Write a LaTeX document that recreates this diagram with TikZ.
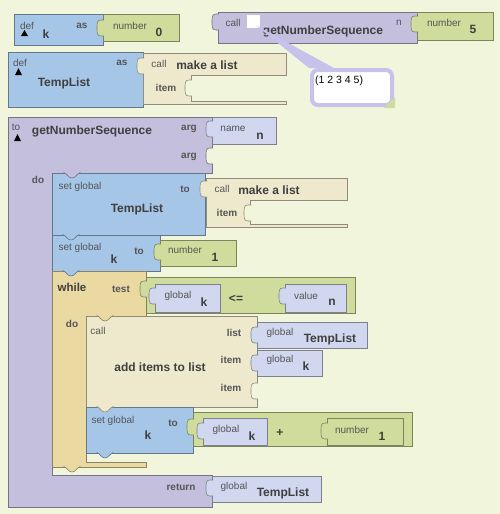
\documentclass[tikz,border=0pt]{standalone}
\usepackage{fontspec}
\setmainfont{Liberation Sans}
\definecolor{canvas}{HTML}{F0F5DC}
\definecolor{varblue}{HTML}{A6C6E8}
\definecolor{numgreen}{HTML}{CFDC9C}
\definecolor{procpurple}{HTML}{C3BFDD}
\definecolor{listcream}{HTML}{EEE9CD}
\definecolor{getblue}{HTML}{D0D7EE}
\definecolor{ctrltan}{HTML}{EBD9A2}
\definecolor{calloutpurple}{HTML}{C6C2EC}
\definecolor{labelgrey}{HTML}{555555}
\definecolor{namegrey}{HTML}{3F3F3F}
\tikzset{
  block/.style={fill=#1, draw=#1!60!black, line width=0.6pt},
  lbl/.style={font=\fontsize{10}{11}\selectfont, text=labelgrey, inner sep=0pt},
  kw/.style={font=\fontsize{10}{11}\selectfont\bfseries, text=labelgrey, inner sep=0pt},
  ident/.style={font=\fontsize{12}{13}\selectfont\bfseries, text=namegrey, inner sep=0pt},
}
% plug of a value block, sitting in the socket of its parent (colour, x, y)
\newcommand{\plugin}[3]{%
  \filldraw[fill=#1, draw=#1!60!black, line width=0.6pt]
    (#2+1,#3-8) -- (#2-2,#3-8) .. controls (#2-6,#3-8) and (#2-6,#3-5) .. (#2-6,#3)
    .. controls (#2-6,#3+5) and (#2-6,#3+8) .. (#2-2,#3+8) -- (#2+1,#3+8);}
% empty socket on the right edge of a block (parent colour, x, y)
\newcommand{\emptysock}[3]{%
  \filldraw[fill=canvas, draw=#1!60!black, line width=0.6pt]
    (#2+1,#3-8) -- (#2-2,#3-8) .. controls (#2-6,#3-8) and (#2-6,#3-5) .. (#2-6,#3)
    .. controls (#2-6,#3+5) and (#2-6,#3+8) .. (#2-2,#3+8) -- (#2+1,#3+8);}
% tab below a statement block (colour, x, y)
\newcommand{\notch}[3]{%
  \filldraw[fill=#1, draw=#1!60!black, line width=0.6pt]
    (#2,#3-1) -- (#2,#3) .. controls (#2+3,#3) and (#2+4,#3+5) .. (#2+8,#3+5)
    .. controls (#2+12,#3+5) and (#2+13,#3) .. (#2+16,#3) -- (#2+16,#3-1);}

\begin{document}
\begin{tikzpicture}[x=1pt, y=-1pt]
  \fill[canvas] (0,0) rectangle (500,514);
  \useasboundingbox (0,0) rectangle (500,514);

  % def k as number 0
  \draw[block=varblue] (14,14) rectangle (103,45);
  \draw[block=numgreen] (103,14) rectangle (179,41);
  \plugin{numgreen}{103}{28}
  \fill (21,36) -- (28,36) -- (24.5,30) -- cycle;

  % def TempList as make a list
  \draw[block=varblue] (8,52) rectangle (143,107);
  \draw[block=listcream] (143,53) -- (286,53) -- (286,75) -- (191,75) -- (191,101)
    -- (286,101) -- (286,104) -- (143,104) -- cycle;
  \plugin{listcream}{143}{66}
  \emptysock{listcream}{191}{88}
  \fill (15,75) -- (22,75) -- (18.5,68) -- cycle;

  % call getNumberSequence 5
  \draw[block=procpurple] (218,12) rectangle (417,43);
  \plugin{procpurple}{218}{22}
  \draw[block=numgreen] (417,12) rectangle (493,40);
  \plugin{numgreen}{417}{24}

  % procedure
  \draw[block=procpurple] (8,117) -- (212,117) -- (212,173) -- (52,173) -- (52,475)
    -- (212,475) -- (212,507) -- (8,507) -- cycle;
  \draw[block=getblue] (212,117) rectangle (276,144);
  \plugin{getblue}{212}{129}
  \emptysock{procpurple}{212}{156}
  \fill (14,141) -- (21,141) -- (17.5,134) -- cycle;

  % set global TempList to make a list
  \draw[block=varblue] (52,173) rectangle (205,235);
  \notch{procpurple}{64}{173}
  \draw[block=listcream] (206,178) -- (347,178) -- (347,200) -- (250,200) -- (250,224)
    -- (347,224) -- (347,227) -- (206,227) -- cycle;
  \plugin{listcream}{206}{189}
  \emptysock{listcream}{250}{213}

  % set global k to 1
  \draw[block=varblue] (52,235) rectangle (160,271);
  \notch{varblue}{63}{235}
  \draw[block=numgreen] (160,240) rectangle (236,266);
  \plugin{numgreen}{160}{252}

  % while test
  \draw[block=ctrltan] (52,271) -- (146,271) -- (146,316) -- (86,316) -- (86,462)
    -- (146,462) -- (146,467) -- (52,467) -- cycle;
  \notch{varblue}{63}{271}
  \draw[block=numgreen] (146,277) rectangle (355,313);
  \plugin{numgreen}{146}{289}
  \draw[block=getblue] (155,284) rectangle (220,312);
  \plugin{getblue}{155}{296}
  \draw[block=getblue] (285,284) rectangle (346,312);
  \plugin{getblue}{285}{296}

  % call add items to list
  \draw[block=listcream] (86,316) rectangle (257,407);
  \notch{ctrltan}{97}{316}
  \draw[block=getblue] (257,322) rectangle (367,348);
  \plugin{getblue}{257}{335}
  \draw[block=getblue] (257,350) rectangle (322,376);
  \plugin{getblue}{257}{363}
  \emptysock{listcream}{257}{391}

  % set global k to k + 1
  \draw[block=varblue] (86,407) rectangle (193,453);
  \notch{listcream}{97}{407}
  \draw[block=numgreen] (193,412) rectangle (412,446);
  \plugin{numgreen}{193}{427}
  \draw[block=getblue] (203,418) rectangle (267,445);
  \plugin{getblue}{203}{431}
  \draw[block=numgreen] (327,418) rectangle (403,445);
  \plugin{numgreen}{327}{431}
  \notch{varblue}{97}{453}
  \notch{ctrltan}{64}{467}

  % return global TempList
  \draw[block=getblue] (212,476) rectangle (321,502);
  \plugin{getblue}{212}{488}

  % texts
  \node[lbl] (defk-def) at (27,26) {def};
  \node[ident] (defk-name) at (46,34) {k};
  \node[kw] (defk-as) at (82,26) {as};
  \node[lbl] (num0-lbl) at (130,26) {number};
  \node[ident] (num0-val) at (159,32) {0};

  \node[lbl] (deflist-def) at (20,63) {def};
  \node[ident] (deflist-name) at (64,83) {TempList};
  \node[kw] (deflist-as) at (122,63) {as};
  \node[lbl] (mk1-call) at (159,64) {call};
  \node[ident] (mk1-name) at (207,65) {make a list};
  \node[kw] (mk1-item) at (166,88) {item};

  \node[lbl] (call-lbl) at (233,23) {call};
  \node[fill=white, minimum size=13pt, inner sep=0pt] (resultbtn) at (253,21.5) {};
  \node[ident] (call-name) at (323,31) {getNumberSequence};
  \node[lbl] (call-n) at (399,23) {n};
  \node[lbl] (num5-lbl) at (444,23) {number};
  \node[ident] (num5-val) at (473,29) {5};

  \node[lbl] (proc-to) at (16,127) {to};
  \node[ident] (proc-name) at (92,131) {getNumberSequence};
  \node[kw] (proc-arg1) at (189,129) {arg};
  \node[kw] (proc-arg2) at (189,157) {arg};
  \node[lbl] (argn-lbl) at (233,129) {name};
  \node[ident] (argn-val) at (260,136) {n};
  \node[kw] (proc-do) at (38,180) {do};

  \node[lbl] (set1-lbl) at (80,187) {set global};
  \node[kw] (set1-to) at (185,189) {to};
  \node[ident] (set1-name) at (137,209) {TempList};
  \node[lbl] (mk2-call) at (222,189) {call};
  \node[ident] (mk2-name) at (269,190) {make a list};
  \node[kw] (mk2-item) at (227,213) {item};

  \node[lbl] (set2-lbl) at (80,248) {set global};
  \node[ident] (set2-name) at (114,259) {k};
  \node[kw] (set2-to) at (139,251) {to};
  \node[lbl] (num1-lbl) at (185,250) {number};
  \node[ident] (num1-val) at (215,257) {1};

  \node[ident, font=\fontsize{11.5}{12}\selectfont\bfseries] (while-lbl) at (72,287) {while};
  \node[kw] (while-test) at (121,289) {test};
  \node[kw] (while-do) at (72,324) {do};
  \node[lbl] (cmpk-lbl) at (178,296) {global};
  \node[ident] (cmpk-val) at (204,302) {k};
  \node[ident] (cmp-op) at (236,299) {<=};
  \node[lbl] (cmpn-lbl) at (306,296) {value};
  \node[ident] (cmpn-val) at (332,302) {n};

  \node[lbl] (add-call) at (98,331) {call};
  \node[kw] (add-list) at (234,333) {list};
  \node[kw] (add-item1) at (231,360) {item};
  \node[kw] (add-item2) at (231,388) {item};
  \node[ident] (add-name) at (160,367) {add items to list};
  \node[lbl] (addl-lbl) at (280,333) {global};
  \node[ident] (addl-val) at (330,339) {TempList};
  \node[lbl] (addk-lbl) at (280,360) {global};
  \node[ident] (addk-val) at (306,366) {k};

  \node[lbl] (set3-lbl) at (113,421) {set global};
  \node[ident] (set3-name) at (148,435) {k};
  \node[kw] (set3-to) at (173,423) {to};
  \node[lbl] (sumk-lbl) at (226,430) {global};
  \node[ident] (sumk-val) at (252,436) {k};
  \node[ident] (sum-op) at (280,433) {+};
  \node[lbl] (sum1-lbl) at (352,430) {number};
  \node[ident] (sum1-val) at (382,436) {1};

  \node[kw] (ret-lbl) at (181,487) {return};
  \node[lbl] (retl-lbl) at (234,487) {global};
  \node[ident] (retl-val) at (283,493) {TempList};

  % result balloon
  \node[draw=calloutpurple, line width=4pt, rounded corners=6pt, fill=white,
        minimum width=80pt, minimum height=35pt, inner sep=0pt] (result) at (352,87.5) {};
  \fill[calloutpurple] ([xshift=-4pt,yshift=3pt]resultbtn.south east)
    -- ([xshift=-1pt]result.north west) -- ([xshift=24pt]result.north west) -- cycle;
  \fill[numgreen] ([xshift=-10pt,yshift=-1pt]result.south east)
    -- ([xshift=1pt,yshift=10pt]result.south east)
    -- ([xshift=1pt,yshift=-1pt]result.south east) -- cycle;
  \node[font=\fontsize{10.5}{11}\selectfont, inner sep=0pt, anchor=west] (result-text)
    at (315,81) {(1 2 3 4 5)};
\end{tikzpicture}
\end{document}
